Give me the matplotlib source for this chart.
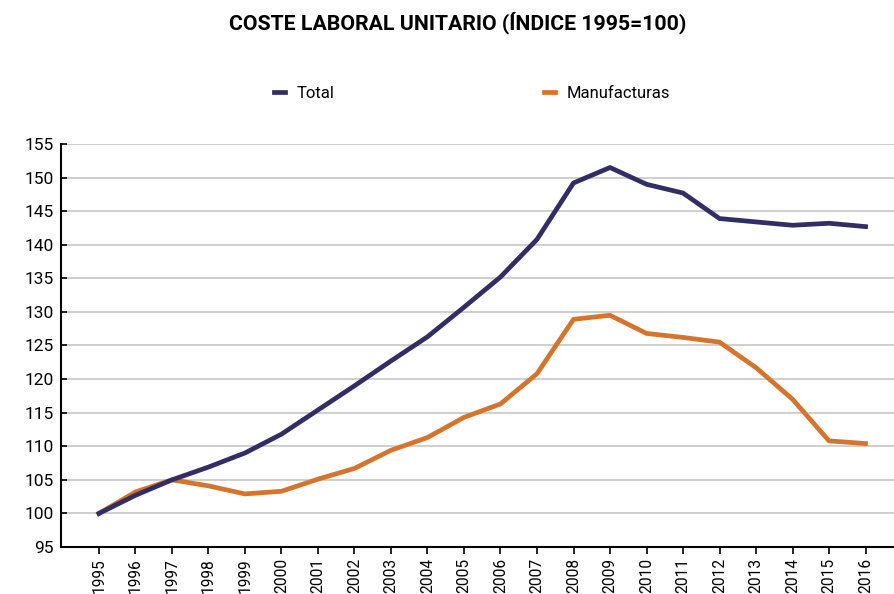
#Coste laboral unitario chart
import numpy as np
import matplotlib.pyplot as plt

plt.rcParams['font.family'] = ['Roboto', 'DejaVu Sans']

years = [str(y) for y in range(1995, 2017)]
total = [100, 102.7, 105.0, 106.9, 109.0, 111.8, 115.4, 119.0, 122.7, 126.3,
         130.7, 135.2, 140.8, 149.2, 151.5, 149.0, 147.7, 143.9, 143.4, 142.9,
         143.2, 142.7]
manufacturas = [100, 103.2, 105.0, 104.1, 102.9, 103.3, 105.1, 106.7, 109.4, 111.3,
                114.3, 116.3, 120.8, 128.9, 129.5, 126.8, 126.2, 125.5, 121.7, 117.0,
                110.8, 110.4]

fig = plt.figure(figsize=(8.94, 5.94), dpi=100)
ax = fig.add_axes([61/894, 47/594, 1 - 61/894, (547-144)/594])

x = np.arange(len(years))
ax.plot(x, total, color='#322d64', lw=3.4, label='Total', zorder=3)
ax.plot(x, manufacturas, color='#d5742c', lw=3.4, label='Manufacturas', zorder=2)

ax.set_ylim(95, 155)
ax.set_yticks(range(95, 156, 5))
ax.set_xlim(-1.04, 21.78)
ax.set_xticks(x)
ax.set_xticklabels(years, rotation=90, fontsize=11.2)
ax.tick_params(axis='y', labelsize=12.5, direction='in', length=4, width=1.2, pad=5)
ax.tick_params(axis='x', direction='out', length=5, width=1.2, pad=3)
ax.grid(axis='y', color='#cccccc', lw=1.3)
ax.set_axisbelow(True)
for s in ['top', 'right']:
    ax.spines[s].set_visible(False)
ax.spines['left'].set_linewidth(1.5)
ax.spines['bottom'].set_linewidth(1.5)

fig.text(0.512, 0.962, 'COSTE LABORAL UNITARIO (ÍNDICE 1995=100)', ha='center', va='center',
         fontsize=15.3, fontweight='bold')
fig.legend(loc='center', bbox_to_anchor=(0.528, 0.843), ncol=2, frameon=False, fontsize=12,
           handlelength=0.65, columnspacing=12.6, handletextpad=0.7)

plt.savefig('out.png', dpi=100)
